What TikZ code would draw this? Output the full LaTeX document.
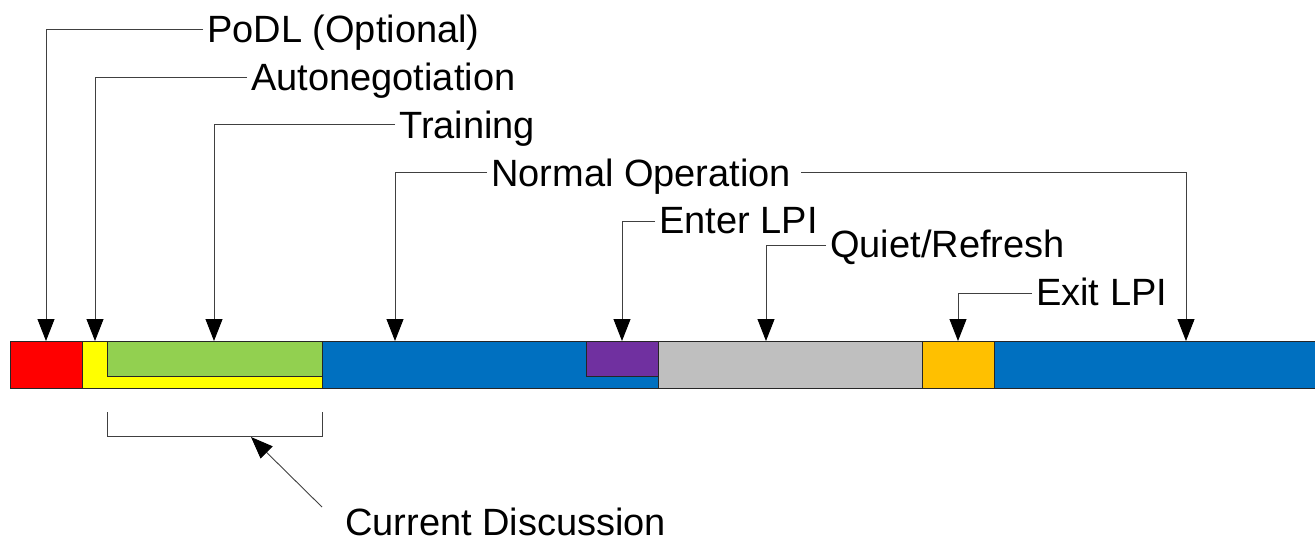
\documentclass[tikz,border=0pt]{standalone}
\usepackage{fontspec}
\setmainfont{Liberation Sans}
\usetikzlibrary{arrows.meta}
\definecolor{podl}{HTML}{FF0000}
\definecolor{autoneg}{HTML}{FFFF00}
\definecolor{train}{HTML}{92D050}
\definecolor{normal}{HTML}{0070C0}
\definecolor{lpi}{HTML}{7030A0}
\definecolor{quiet}{HTML}{BFBFBF}
\definecolor{exitc}{HTML}{FFC000}
\tikzset{
  seg/.style={draw=black!85, line width=0.9pt},
  lbl/.style={anchor=base west, inner xsep=4pt, inner ysep=0pt, font=\fontsize{38}{45}\selectfont},
  lead/.style={draw=black!75, line width=0.9pt},
  pointer/.style={lead, -{Triangle[width=17pt,length=22pt,fill=black,color=black]}},
}
\begin{document}
\begin{tikzpicture}[x=1pt, y=-1pt]
\useasboundingbox (0,0) rectangle (1315,546);

% timeline bar
\path[seg, fill=podl]    (10,341)  rectangle (82,388)   coordinate (sPoDL);
\path[seg, fill=autoneg] (82,341)  rectangle (322,388)  coordinate (sAuto);
\path[seg, fill=train]   (107,341) rectangle (322,376)  coordinate (sTrain);
\path[seg, fill=normal]  (322,341) rectangle (658,388)  coordinate (sNorm1);
\path[seg, fill=lpi]     (586,341) rectangle (658,376)  coordinate (sEnter);
\path[seg, fill=quiet]   (658,341) rectangle (922,388)  coordinate (sQuiet);
\path[seg, fill=exitc]   (922,341) rectangle (994,388)  coordinate (sExit);
\fill[normal] (994,341) rectangle (1315,388);
\draw[seg] (994,388) -- (994,341) -- (1315,341) (994,388) -- (1315,388);

% arrow targets on the bar
\coordinate (tPoDL)  at (46,341);
\coordinate (tAuto)  at (95,341);
\coordinate (tTrain) at (214,341);
\coordinate (tNormA) at (395,341);
\coordinate (tNormB) at (1186,341);
\coordinate (tEnter) at (622,341);
\coordinate (tQuiet) at (766,341);
\coordinate (tExit)  at (958,341);

% labels
\node[lbl] (lPoDL)  at (203,42)  {PoDL (Optional)};
\node[lbl] (lAuto)  at (247,90)  {Autonegotiation};
\node[lbl] (lTrain) at (395,138) {Training};
\node[lbl] (lNorm)  at (487,186) {Normal Operation};
\node[lbl] (lEnter) at (655,233) {Enter LPI};
\node[lbl] (lQuiet) at (826,257) {Quiet/Refresh};
\node[lbl] (lExit)  at (1032,305){Exit LPI};

% leader lines
\draw[pointer] (lPoDL.west |- 0,29)  -| (tPoDL);
\draw[pointer] (lAuto.west |- 0,77)  -| (tAuto);
\draw[pointer] (lTrain.west |- 0,124) -| (tTrain);
\draw[pointer] (lNorm.west |- 0,172) -| (tNormA);
\draw[pointer] ([xshift=6pt]lNorm.east |- 0,172) -| (tNormB);
\draw[pointer] (lEnter.west |- 0,221) -| (tEnter);
\draw[pointer] (lQuiet.west |- 0,245) -| (tQuiet);
\draw[pointer] (lExit.west |- 0,293) -| (tExit);

% bracket for the part under discussion
\draw[lead] (107,412) -- (107,436) -- (322,436) -- (322,412);
\coordinate (tBracket) at (251,437);
\node[lbl, inner xsep=0pt] (lCur) at (345,535) {Current Discussion};
\coordinate (cStart) at (322,507);
\draw[pointer] (cStart) -- (tBracket);
\end{tikzpicture}
\end{document}
